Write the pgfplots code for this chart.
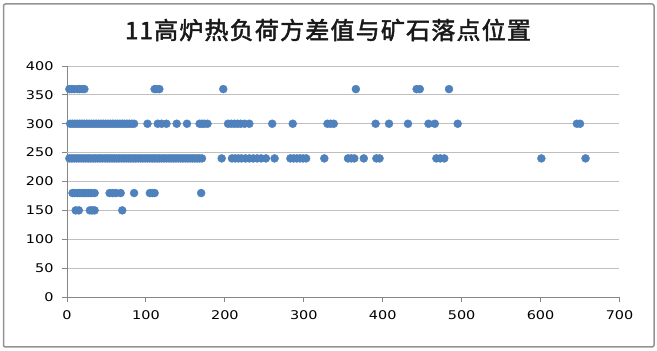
\documentclass[border=0pt]{standalone}
\usepackage{pgfplots}
\pgfplotsset{compat=1.18}
\usepackage{pgfplotstable}
\usepackage{fontspec}
\setmainfont{DejaVu Sans}
\newfontfamily\cjk{Noto Sans CJK SC}[LetterSpace=5, FakeBold=2]
\definecolor{mblue}{HTML}{4F81BD}
\definecolor{axgray}{HTML}{868686}
\definecolor{grdgray}{HTML}{BFBFBF}

% y = 360
\pgfplotstableread{
x y
3 360
6 360
9 360
13 360
16 360
19 360
22 360
111 360
114 360
117 360
198 360
366 360
443 360
447 360
484 360
}\dataA
% y = 300
\pgfplotstableread{
x y
4 300
7 300
10 300
13 300
16 300
19 300
22 300
25 300
28 300
31 300
34 300
37 300
40 300
43 300
46 300
49 300
52 300
55 300
58 300
61 300
64 300
67 300
70 300
73 300
76 300
79 300
82 300
85 300
102 300
115 300
120 300
126 300
139 300
152 300
168 300
171 300
174 300
178 300
204 300
208 300
212 300
216 300
220 300
225 300
231 300
260 300
286 300
330 300
334 300
338 300
391 300
408 300
432 300
458 300
466 300
495 300
646 300
650 300
}\dataB
% y = 240
\pgfplotstableread{
x y
3 240
6 240
9 240
12 240
15 240
18 240
21 240
24 240
27 240
30 240
33 240
36 240
39 240
42 240
45 240
48 240
51 240
54 240
57 240
60 240
63 240
66 240
69 240
72 240
75 240
78 240
81 240
84 240
87 240
90 240
93 240
96 240
99 240
102 240
105 240
108 240
111 240
114 240
117 240
120 240
123 240
126 240
129 240
132 240
135 240
138 240
141 240
144 240
147 240
150 240
153 240
156 240
159 240
162 240
165 240
168 240
171 240
196 240
209 240
213 240
217 240
221 240
226 240
231 240
236 240
241 240
246 240
252 240
263 240
283 240
287 240
291 240
295 240
299 240
303 240
326 240
356 240
360 240
364 240
376 240
392 240
396 240
468 240
473 240
478 240
601 240
657 240
}\dataC
% y = 180
\pgfplotstableread{
x y
7 180
10 180
13 180
16 180
19 180
22 180
25 180
28 180
31 180
35 180
54 180
58 180
62 180
68 180
85 180
105 180
108 180
111 180
170 180
}\dataD
% y = 150
\pgfplotstableread{
x y
11 150
15 150
29 150
32 150
35 150
70 150
}\dataE

\begin{document}
\begin{tikzpicture}[x=1pt,y=1pt]
\useasboundingbox (0,0) rectangle (657,351);
\draw[rounded corners=2pt, color=gray!85, line width=1.5pt] (3.5,4) rectangle (654,347);
\node[font=\cjk\fontsize{24}{24}\selectfont, text=black!90] at (328,321) {11高炉热负荷方差值与矿石落点位置};
\begin{axis}[
  at={(67pt,54pt)}, anchor=south west,
  scale only axis, width=552.5pt, height=231pt,
  xmin=0, xmax=700, ymin=0, ymax=400,
  xtick={0,100,...,700}, ytick={0,50,...,400},
  axis lines*=left,
  clip=false,
  ymajorgrids,
  major grid style={grdgray, line width=0.9pt},
  axis line style={axgray, line width=0.9pt},
  tick style={axgray, line width=0.9pt},
  tick align=outside, major tick length=5pt,
  extra y ticks={250}, extra y tick labels={},
  extra y tick style={grid style={axgray, line width=0.9pt}},
  /pgf/number format/assume math mode=true,
  yticklabel style={font=\fontsize{12}{12}\selectfont, xshift=-5pt},
  xticklabel style={font=\fontsize{12}{12}\selectfont, yshift=-5pt},
  yticklabel={\scalebox{1.2}[1]{\pgfmathprintnumber{\tick}}},
  xticklabel={\scalebox{1.2}[1]{\pgfmathprintnumber{\tick}}},
]
\addplot[only marks, mark=*, mark size=4pt, mblue, mark options={fill=mblue, draw=mblue}] table[x=x,y=y] {\dataA};
\addplot[only marks, mark=*, mark size=4pt, mblue, mark options={fill=mblue, draw=mblue}] table[x=x,y=y] {\dataB};
\addplot[only marks, mark=*, mark size=4pt, mblue, mark options={fill=mblue, draw=mblue}] table[x=x,y=y] {\dataC};
\addplot[only marks, mark=*, mark size=4pt, mblue, mark options={fill=mblue, draw=mblue}] table[x=x,y=y] {\dataD};
\addplot[only marks, mark=*, mark size=4pt, mblue, mark options={fill=mblue, draw=mblue}] table[x=x,y=y] {\dataE};
\end{axis}
\end{tikzpicture}
\end{document}
